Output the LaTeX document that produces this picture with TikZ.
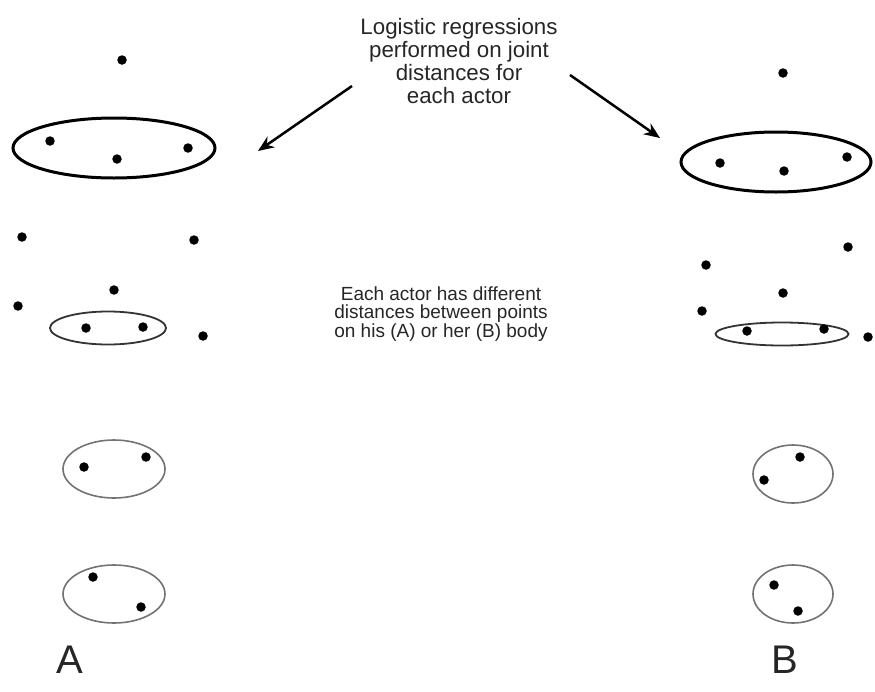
\documentclass[tikz,border=0pt]{standalone}
\usepackage{fontspec}
\setmainfont{Liberation Sans}
\usetikzlibrary{shapes.geometric,arrows.meta}
\begin{document}
\begin{tikzpicture}[x=1pt,y=-1pt,
  pt/.style={circle,fill=black,inner sep=0pt,minimum size=9.5pt},
  bigell/.style={ellipse,draw=black,line width=3pt,inner sep=0pt},
  midell/.style={ellipse,draw=black!80,line width=1.8pt,inner sep=0pt},
  lowell/.style={ellipse,draw=black!55,line width=1.6pt,inner sep=0pt},
  lbl/.style={align=center,text=black!85,font=\fontsize{22.3}{23.3}\selectfont},
  lbltwo/.style={align=center,text=black!85,font=\fontsize{19}{18.7}\selectfont},
  letter/.style={text=black!85,font=\fontsize{40}{40}\selectfont},
  arr/.style={line width=2.5pt,-{Stealth[length=16pt,width=13pt]}}]
\useasboundingbox (0,0) rectangle (875,691);
% ---------- A ----------
\node[pt] (a1) at (122,60) {};
\node[bigell,minimum width=202pt,minimum height=60pt] (aE1) at (114,148) {};
\node[pt] (a2) at (50,141) {};
\node[pt] (a3) at (117,159) {};
\node[pt] (a4) at (188,148) {};
\node[pt] (a5) at (22,237) {};
\node[pt] (a6) at (194,240) {};
\node[pt] (a7) at (114,290) {};
\node[pt] (a8) at (18,306) {};
\node[midell,minimum width=116pt,minimum height=33pt] (aE2) at (108,328) {};
\node[pt] (a9) at (86,328) {};
\node[pt] (a10) at (143,327) {};
\node[pt] (a11) at (203,336) {};
\node[lowell,minimum width=102pt,minimum height=58pt] (aE3) at (114,469) {};
\node[pt] (a12) at (84,467) {};
\node[pt] (a13) at (146,457) {};
\node[lowell,minimum width=102pt,minimum height=58pt] (aE4) at (114,594) {};
\node[pt] (a14) at (93,577) {};
\node[pt] (a15) at (141,607) {};
\node[letter] (A) at (70,660) {A};
% ---------- B ----------
\node[pt] (b1) at (783,73) {};
\node[bigell,minimum width=190pt,minimum height=60pt] (bE1) at (776,162) {};
\node[pt] (b2) at (720,163) {};
\node[pt] (b3) at (784,171) {};
\node[pt] (b4) at (847,157) {};
\node[pt] (b5) at (848,247) {};
\node[pt] (b6) at (706,265) {};
\node[pt] (b7) at (783,293) {};
\node[pt] (b8) at (702,311) {};
\node[midell,minimum width=133pt,minimum height=23pt] (bE2) at (782,334) {};
\node[pt] (b9) at (747,331) {};
\node[pt] (b10) at (824,329) {};
\node[pt] (b11) at (868,337) {};
\node[lowell,minimum width=80pt,minimum height=58pt] (bE3) at (793,474) {};
\node[pt] (b12) at (764,480) {};
\node[pt] (b13) at (800,457) {};
\node[lowell,minimum width=80pt,minimum height=58pt] (bE4) at (793,594) {};
\node[pt] (b14) at (774,585) {};
\node[pt] (b15) at (798,611) {};
\node[letter] (B) at (785,660) {B};
% ---------- texts ----------
\node[lbl] (t1) at (459,61) {Logistic regressions\\performed on joint\\distances for\\each actor};
\node[lbltwo] (t2) at (441,314) {Each actor has different\\distances between points\\on his (A) or her (B) body};
% ---------- arrows ----------
\coordinate (la) at (352,86);
\coordinate (lb) at (258,151);
\coordinate (ra) at (570,75);
\coordinate (rb) at (660,138);
\draw[arr] (la) -- (lb);
\draw[arr] (ra) -- (rb);
\end{tikzpicture}
\end{document}
